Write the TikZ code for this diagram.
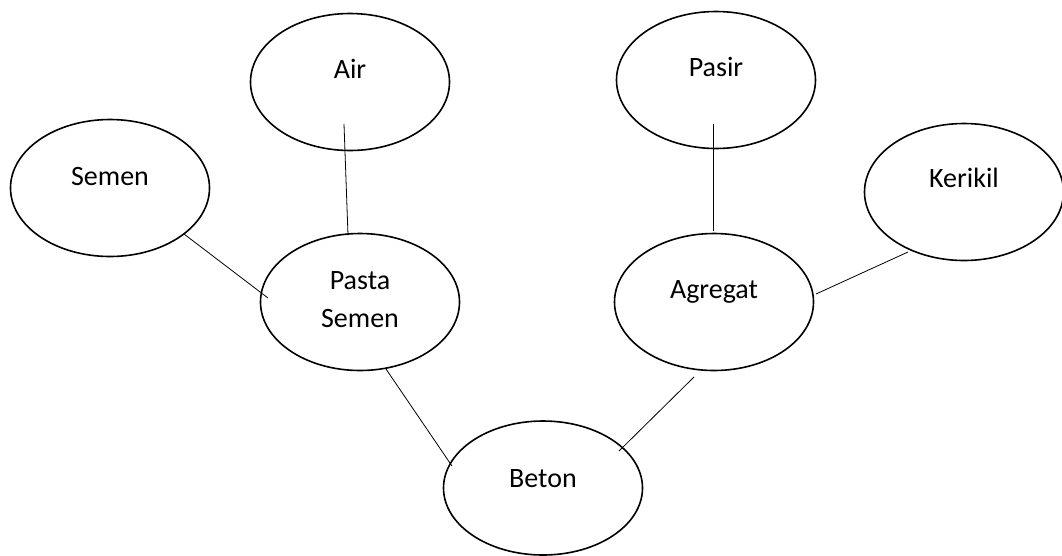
\documentclass[tikz,border=0pt]{standalone}
\usepackage{fontspec}
\setmainfont{Carlito}
\usetikzlibrary{shapes.geometric,calc}

\tikzset{
  blob/.style={ellipse, draw=black, line width=1.6pt, minimum width=199pt,
    minimum height=137pt, inner sep=0pt},
  txt/.style={font=\fontsize{28}{38}\selectfont, text height=20pt,
    text depth=7pt, inner sep=0pt, align=center},
  link/.style={draw=black, line width=0.8pt}
}

\begin{document}
\begin{tikzpicture}[x=1pt, y=-1pt]
  \useasboundingbox (0,0) rectangle (1062,555);

  % ingredients and intermediate mixtures
  \node[blob, label={[txt, yshift=9.75pt]center:Air}]     (air)     at (350,82)  {};
  \node[blob, label={[txt, yshift=8.75pt]center:Semen}]   (semen)   at (110,188) {};
  \node[blob, label={[txt, yshift=-19pt]center:Pasta\\Semen}] (pasta) at (360,302) {};
  \node[blob, label={[txt, yshift=9.75pt]center:Pasir}]   (pasir)   at (716,80)  {};
  \node[blob, label={[txt, yshift=10.75pt]center:Kerikil}] (kerikil) at (964,192) {};
  \node[blob, label={[txt, yshift=9.75pt]center:Agregat}] (agregat) at (714,302) {};
  \node[blob, minimum height=134pt,
        label={[txt, yshift=6.75pt]center:Beton}]         (beton)   at (543,488) {};

  % connectors between the ellipses
  \draw[link] ($(air)+(-6,42)$)     -- ($(pasta)+(-12,-67)$);
  \draw[link] ($(semen)+(74,46)$)   -- ($(pasta)+(-92,-4)$);
  \draw[link] ($(pasta)+(26,67)$)   -- ($(beton)+(-91,-22)$);
  \draw[link] ($(pasir)+(-3,44)$)   -- ($(agregat)+(-1,-71)$);
  \draw[link] ($(kerikil)+(-56,60)$) -- ($(agregat)+(102,-8)$);
  \draw[link] ($(agregat)+(-20,75)$) -- ($(beton)+(76,-37)$);
\end{tikzpicture}
\end{document}
